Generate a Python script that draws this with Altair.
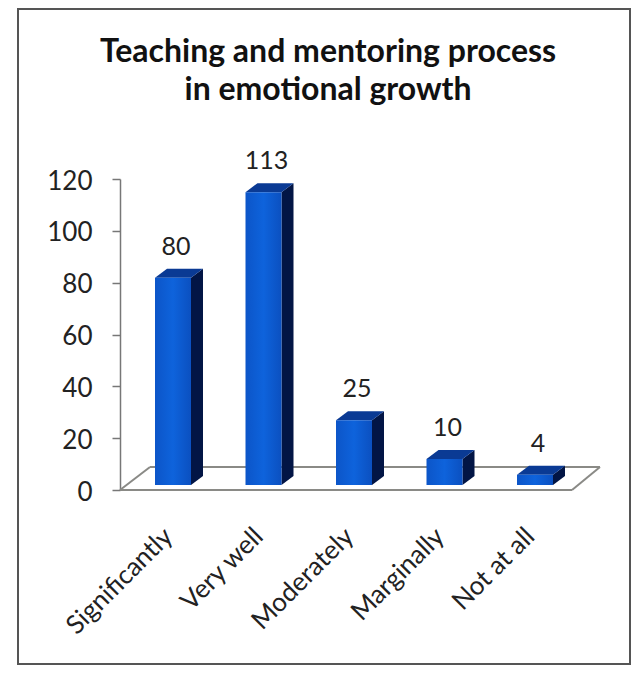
import altair as alt
import pandas as pd

categories = ["Significantly", "Very well", "Moderately", "Marginally", "Not at all"]
values = [80, 113, 25, 10, 4]
y_ticks = [0, 20, 40, 60, 80, 100, 120]
title_lines = ["Teaching and mentoring process", "in emotional growth"]

PLOT_W, PLOT_H = 458, 311
STEP = 90.5           # px per category
X0 = 53               # px of first category centre
Y_UNIT = PLOT_H / 120 # px per value unit
HALF = 18 / STEP      # half bar width (x units)
DX = 12 / STEP        # depth in x
DY = 9 / Y_UNIT       # depth in y
BASE = 5 / Y_UNIT     # bar foot lifted off the axis line

x_scale = alt.Scale(domain=[-X0 / STEP, (PLOT_W - X0) / STEP], nice=False, zero=False)
y_scale = alt.Scale(domain=[0, 120], nice=False)

front, side, top, labels = [], [], [], []
for i, v in enumerate(values):
    lo, hi = BASE, BASE + v
    l, r = i - HALF, i + HALF
    front.append({"x": l, "x2": r, "y": lo, "y2": hi})
    side += [
        {"k": i, "x": r, "y": lo, "y2": hi},
        {"k": i, "x": r + DX, "y": lo + DY, "y2": hi + DY},
    ]
    top += [
        {"k": i, "x": l, "y": hi, "y2": hi},
        {"k": i, "x": l + DX, "y": hi, "y2": hi + DY},
        {"k": i, "x": r, "y": hi, "y2": hi + DY},
        {"k": i, "x": r + DX, "y": hi + DY, "y2": hi + DY},
    ]
    labels.append({"x": i + 3 / STEP, "y": hi + DY, "t": str(v)})

x_axis = alt.Axis(
    values=list(range(5)),
    labelExpr="%s[datum.value]" % str(categories),
    labelAngle=-45, labelAlign="right", labelBaseline="middle",
    labelFont="Lato", labelFontSize=26, labelColor="#222222", labelPadding=42,
    labelOffset=-5,
    labelOverlap=False, labelBound=False, labelFlush=False,
    ticks=False, domain=False, grid=False, title=None)
y_axis = alt.Axis(
    values=y_ticks, labelFont="Lato", labelFontSize=26, labelColor="#222222",
    labelPadding=20, labelOffset=2, tickSize=8, tickColor="#777777", domainColor="#777777",
    domainWidth=1.5, tickWidth=1.5, grid=False, labelOverlap=False, title=None)

X = alt.X("x:Q", scale=x_scale, axis=x_axis)
Y = alt.Y("y:Q", scale=y_scale, axis=y_axis)
one = alt.Data(values=[{}])

def rule(x, x2, y, y2):
    return alt.Chart(one).mark_rule(color="#8a8a86", strokeWidth=2).encode(
        x=alt.value(x), x2=alt.value(x2), y=alt.value(y), y2=alt.value(y2)
    )

frame = alt.Chart(one).mark_rect(fillOpacity=0, stroke="#555555", strokeWidth=2, clip=False).encode(
    x=alt.value(-102), x2=alt.value(510), y=alt.value(-170), y2=alt.value(485)
)

def title_line(line, y):
    return alt.Chart(pd.DataFrame({"t": [line]})).mark_text(
        font="Lato", fontSize=32, fontWeight="bold", color="#111111",
        align="center", baseline="middle"
    ).encode(x=alt.value(208), y=alt.value(y), text="t:N")

front_l = alt.Chart(pd.DataFrame(front)).mark_rect(
    color=alt.Gradient(gradient="linear", x1=0, x2=1, y1=0, y2=0, stops=[
        alt.GradientStop(offset=0, color="#0c55c8"),
        alt.GradientStop(offset=0.5, color="#0e63dc"),
        alt.GradientStop(offset=1, color="#0b50c0"),
    ])
).encode(x=X, x2="x2:Q", y=Y, y2="y2:Q")

side_l = alt.Chart(pd.DataFrame(side)).mark_area(color="#021545", interpolate="linear").encode(
    x=X, y=Y, y2="y2:Q", detail="k:N"
)
top_l = alt.Chart(pd.DataFrame(top)).mark_area(color="#0a3a94", interpolate="linear").encode(
    x=X, y=Y, y2="y2:Q", detail="k:N"
)
text_l = alt.Chart(pd.DataFrame(labels)).mark_text(
    font="Lato", fontSize=25, color="#222222", baseline="bottom", dy=-9
).encode(x=X, y=Y, text="t:N")

chart = alt.layer(
    frame,
    title_line(title_lines[0], -127),
    title_line(title_lines[1], -89),
    rule(0, 452, 311, 311),
    rule(30, 480, 288, 288),
    rule(0, 30, 311, 288),
    rule(452, 480, 311, 288),
    side_l, top_l, front_l, text_l,
).properties(
    width=PLOT_W, height=PLOT_H,
    autosize=alt.AutoSizeParams(type="none"),
    padding={"left": 112, "top": 171, "right": 53, "bottom": 186},
    background="white",
).configure_view(stroke=None)

chart.save("out.html", embed_options={"renderer": "svg", "actions": False})
